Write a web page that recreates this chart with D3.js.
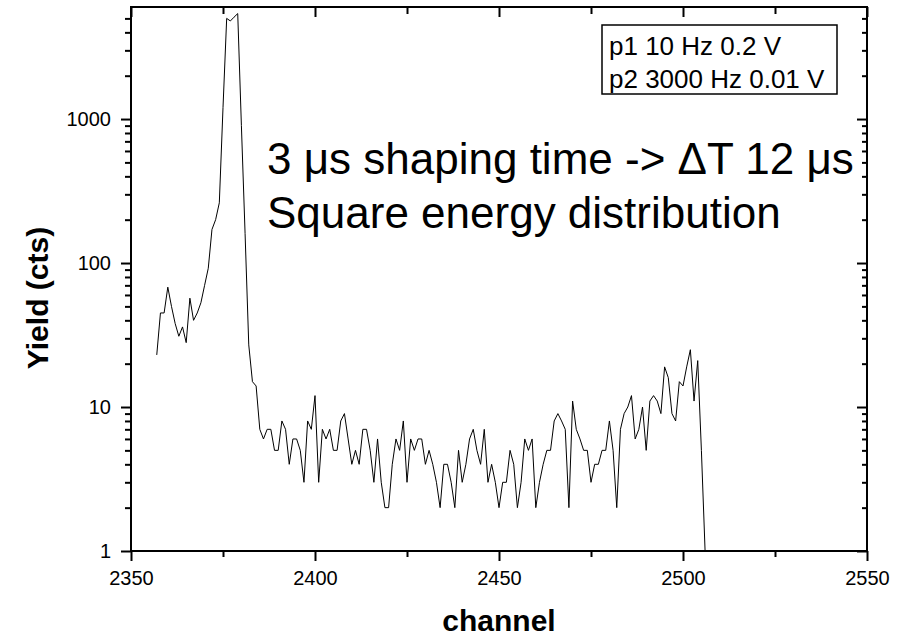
<!DOCTYPE html>
<html>
<head>
<meta charset="utf-8">
<script src="https://cdn.jsdelivr.net/npm/d3@7"></script>
<style>
  body { margin: 0; background: #fff; }
  text { font-family: 'Liberation Sans', Arial, sans-serif; fill: #000; }
</style>
</head>
<body>
<div id="chart-area"></div>
<script>
/* DATA */
const firstChannel = 2357;
// counts per channel (channel = firstChannel + index)
const counts = [
  23, 45, 45, 68, 50, 38, 31, 36, 28, 57,
  40, 45, 53, 70, 92, 171, 200, 262, 1200, 5000,
  4800, 5100, 5400, 900, 160, 27, 15, 14, 7, 6,
  7, 7, 5, 5, 8, 7, 4, 6, 6, 5,
  3, 8, 7, 12, 3, 7, 6, 7, 5, 5,
  8, 9, 6, 4, 5, 4, 7, 7, 5, 3,
  6, 3, 2, 2, 4, 6, 5, 8, 3, 6,
  5, 6, 6, 4, 5, 4, 3, 2, 4, 4,
  3, 2, 5, 3, 4, 6, 7, 5, 4, 7,
  3, 4, 3, 2, 3, 3, 5, 4, 2, 3,
  6, 5, 6, 2, 3, 4, 5, 5, 8, 9,
  8, 7, 2, 11, 7, 6, 5, 5, 3, 4,
  4, 5, 5, 8, 5, 2, 7, 9, 10, 12,
  6, 7, 10, 5, 11, 12, 11, 9, 19, 16,
  9, 8, 15, 14, 19, 25, 11, 21, 5, 1
];
const xTicks = [2350, 2400, 2450, 2500, 2550];
const xMinorTicks = [2375, 2425, 2475, 2525];
const yTicks = [1, 10, 100, 1000];
const legendLines = ['p1 10 Hz 0.2 V', 'p2 3000 Hz 0.01 V'];
const noteLines = ['3 \u03bcs shaping time -> \u0394T 12 \u03bcs', 'Square energy distribution'];

/* CONSTANTS AND GLOBALS */
const W = 905, H = 639;
const margin = { left: 131, right: 38, top: 7, bottom: 88 };
const width = W - margin.left - margin.right;
const height = H - margin.top - margin.bottom;
const font = "'Liberation Sans', Arial, sans-serif";

const svg = d3.select('#chart-area')
  .append('svg')
  .attr('width', W)
  .attr('height', H)
  .attr('viewBox', `0 0 ${W} ${H}`);

const g = svg.append('g')
  .attr('transform', `translate(${margin.left}, ${margin.top})`);

// Scales
const x = d3.scaleLinear().domain([2350, 2550]).range([0, width]);
const y = d3.scaleLog().domain([1, 6000]).range([height, 0]);

// log minor ticks 2..9 of each decade (drop anything at the very top)
const yMinorTicks = y.ticks().filter(v => yTicks.indexOf(v) < 0 && v <= 5000);

function styleAxis(sel) {
  sel.select('.domain').remove();
  sel.selectAll('line').attr('stroke', '#000').attr('stroke-width', 2);
  sel.selectAll('text')
    .attr('font-family', font)
    .attr('font-size', 20)
    .attr('fill', '#000');
}

// Bottom axis (ticks outward)
g.append('g')
  .attr('transform', `translate(0, ${height})`)
  .call(d3.axisBottom(x).tickValues(xMinorTicks).tickSize(6).tickFormat(''))
  .call(styleAxis);
g.append('g')
  .attr('transform', `translate(0, ${height})`)
  .call(d3.axisBottom(x).tickValues(xTicks).tickSize(10).tickPadding(10).tickFormat(d3.format('d')))
  .call(styleAxis);

// Top axis (ticks inward)
g.append('g')
  .call(d3.axisTop(x).tickValues(xMinorTicks).tickSize(-7).tickFormat(''))
  .call(styleAxis);
g.append('g')
  .call(d3.axisTop(x).tickValues(xTicks).tickSize(-10).tickFormat(''))
  .call(styleAxis);

// Left axis (ticks outward)
g.append('g')
  .call(d3.axisLeft(y).tickValues(yMinorTicks).tickSize(6).tickFormat(''))
  .call(styleAxis);
g.append('g')
  .call(d3.axisLeft(y).tickValues(yTicks).tickSize(10).tickPadding(10).tickFormat(d3.format('d')))
  .call(styleAxis);

// Right axis (ticks inward)
g.append('g')
  .attr('transform', `translate(${width}, 0)`)
  .call(d3.axisRight(y).tickValues(yMinorTicks).tickSize(-5).tickFormat(''))
  .call(styleAxis);
g.append('g')
  .attr('transform', `translate(${width}, 0)`)
  .call(d3.axisRight(y).tickValues(yTicks).tickSize(-10).tickFormat(''))
  .call(styleAxis);

// frame
g.append('rect')
  .attr('width', width)
  .attr('height', height)
  .attr('fill', 'none')
  .attr('stroke', '#000')
  .attr('stroke-width', 2);

// spectrum line
const data = counts.map((c, i) => ({ channel: firstChannel + i, count: c }));
const line = d3.line()
  .x(d => x(d.channel))
  .y(d => y(d.count));
g.append('path')
  .datum(data)
  .attr('d', line)
  .attr('fill', 'none')
  .attr('stroke', '#000')
  .attr('stroke-width', 1);

// axis titles
svg.append('text')
  .attr('x', margin.left + width / 2)
  .attr('y', 631)
  .attr('text-anchor', 'middle')
  .attr('font-size', 30)
  .attr('font-weight', 'bold')
  .text('channel');

svg.append('text')
  .attr('transform', 'translate(48, 298) rotate(-90)')
  .attr('text-anchor', 'middle')
  .attr('font-size', 30)
  .attr('font-weight', 'bold')
  .text('Yield (cts)');

// legend box
svg.append('rect')
  .attr('x', 602)
  .attr('y', 25)
  .attr('width', 235)
  .attr('height', 69)
  .attr('fill', '#fff')
  .attr('stroke', '#000')
  .attr('stroke-width', 1.5);
svg.selectAll('text.legend')
  .data(legendLines)
  .enter()
  .append('text')
  .attr('class', 'legend')
  .attr('x', 609)
  .attr('y', (d, i) => 55 + i * 33)
  .attr('font-size', 26)
  .text(d => d);

// annotation
svg.selectAll('text.note')
  .data(noteLines)
  .enter()
  .append('text')
  .attr('class', 'note')
  .attr('x', 267)
  .attr('y', (d, i) => 174 + i * 54)
  .attr('font-size', 44)
  .text(d => d);
</script>
</body>
</html>
